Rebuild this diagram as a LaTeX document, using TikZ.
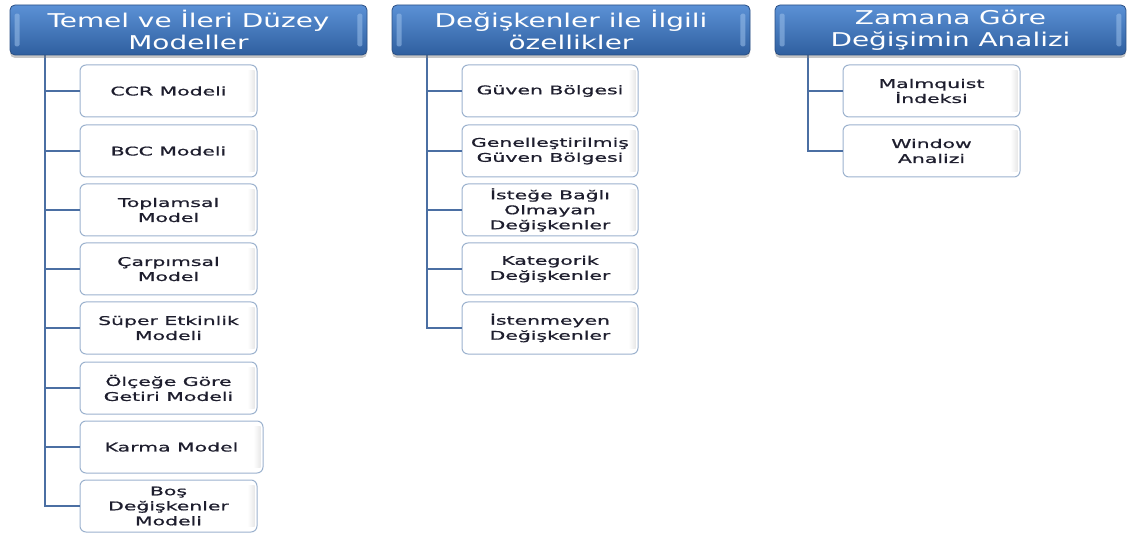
\documentclass[tikz,border=0pt]{standalone}
\usepackage{fontspec}
\setmainfont{DejaVu Sans}
\newfontfamily\itemfont[FakeStretch=1.7,FakeBold=0.8]{DejaVu Sans}
\newfontfamily\headfont[FakeStretch=1.47]{DejaVu Sans}
\usetikzlibrary{shadows}
\definecolor{hdtop}{HTML}{5B91D6}
\definecolor{hdbot}{HTML}{2F5F9F}
\definecolor{hdedge}{HTML}{2A4F84}
\definecolor{hdgloss}{HTML}{9CC0EA}
\definecolor{itemedge}{HTML}{9CB2CE}
\definecolor{itemtext}{HTML}{1E1E2E}
\definecolor{linkblue}{HTML}{4B6FA3}
\begin{document}
\begin{tikzpicture}[x=1pt,y=-1pt,
  header/.style={draw=hdedge, line width=0.8pt, rounded corners=5pt,
    top color=hdtop, bottom color=hdbot, text=white, align=center,
    inner sep=0pt, minimum height=50pt,
    font=\headfont\fontsize{19}{22}\selectfont,
    drop shadow={shadow xshift=0pt, shadow yshift=-3pt, opacity=0.45}},
  gloss/.style={fill=hdgloss, opacity=0.55, rounded corners=1.5pt},
  item/.style={draw=itemedge, line width=1pt, rounded corners=6pt,
    fill=white, text=itemtext, align=center, inner sep=0pt,
    minimum width=177pt, minimum height=52pt,
    font=\itemfont\fontsize{12}{15}\selectfont},
  itemshade/.style={left color=white, right color=black!9},
  link/.style={draw=linkblue, line width=2.6pt}]
\useasboundingbox (0,0) rectangle (1127,537);

% spines of the three trees
\coordinate (s1) at (45,40);
\coordinate (s2) at (427,40);
\coordinate (s3) at (808,40);

% first column: model types
\node[item] (a1) at (168.5,91) {CCR Modeli};
\node[item] (a2) at (168.5,151) {BCC Modeli};
\node[item] (a3) at (168.5,210) {Toplamsal\\Model};
\node[item] (a4) at (168.5,269) {Çarpımsal\\Model};
\node[item] (a5) at (168.5,328) {Süper Etkinlik\\Modeli};
\node[item] (a6) at (168.5,388) {Ölçeğe Göre\\Getiri Modeli};
\node[item, minimum width=183pt] (a7) at (171.5,447) {Karma Model};
\node[item] (a8) at (168.5,506) {Boş\\Değişkenler\\Modeli};

% second column: variables
\node[item, minimum width=176pt] (b1) at (550,91) {Güven Bölgesi};
\node[item, minimum width=176pt] (b2) at (550,151) {Genelleştirilmiş\\Güven Bölgesi};
\node[item, minimum width=176pt] (b3) at (550,210) {İsteğe Bağlı\\Olmayan\\Değişkenler};
\node[item, minimum width=176pt] (b4) at (550,269) {Kategorik\\Değişkenler};
\node[item, minimum width=176pt] (b5) at (550,328) {İstenmeyen\\Değişkenler};

% third column: change over time
\node[item] (c1) at (931.5,91) {Malmquist\\İndeksi};
\node[item] (c2) at (931.5,151) {Window\\Analizi};

% faint shading along the right inner edge of each box
\foreach \n in {a1,a2,a3,a4,a5,a6,a7,a8,b1,b2,b3,b4,b5,c1,c2}
  \path[itemshade] ([xshift=-10pt,yshift=-6pt]\n.north east) rectangle ([xshift=-3pt,yshift=6pt]\n.south east);

% connectors
\foreach \n in {a1,a2,a3,a4,a5,a6,a7,a8} \draw[link] (s1) |- (\n.west);
\foreach \n in {b1,b2,b3,b4,b5} \draw[link] (s2) |- (\n.west);
\foreach \n in {c1,c2} \draw[link] (s3) |- (\n.west);

% headers on top
\node[header, minimum width=357pt] (h1) at (188.5,30) {Temel ve İleri Düzey\\Modeller};
\node[header, minimum width=358pt] (h2) at (571,30) {Değişkenler ile İlgili\\özellikler};
\node[header, minimum width=351pt] (h3) at (950.5,30) {Zamana Göre\\Değişimin Analizi};

% glossy bevel strips at the header ends
\foreach \h in {h1,h2,h3} {
  \fill[gloss] ([xshift=5pt,yshift=-9pt]\h.north west) rectangle ([xshift=10pt,yshift=9pt]\h.south west);
  \fill[gloss] ([xshift=-10pt,yshift=-9pt]\h.north east) rectangle ([xshift=-5pt,yshift=9pt]\h.south east);
}
\end{tikzpicture}
\end{document}
